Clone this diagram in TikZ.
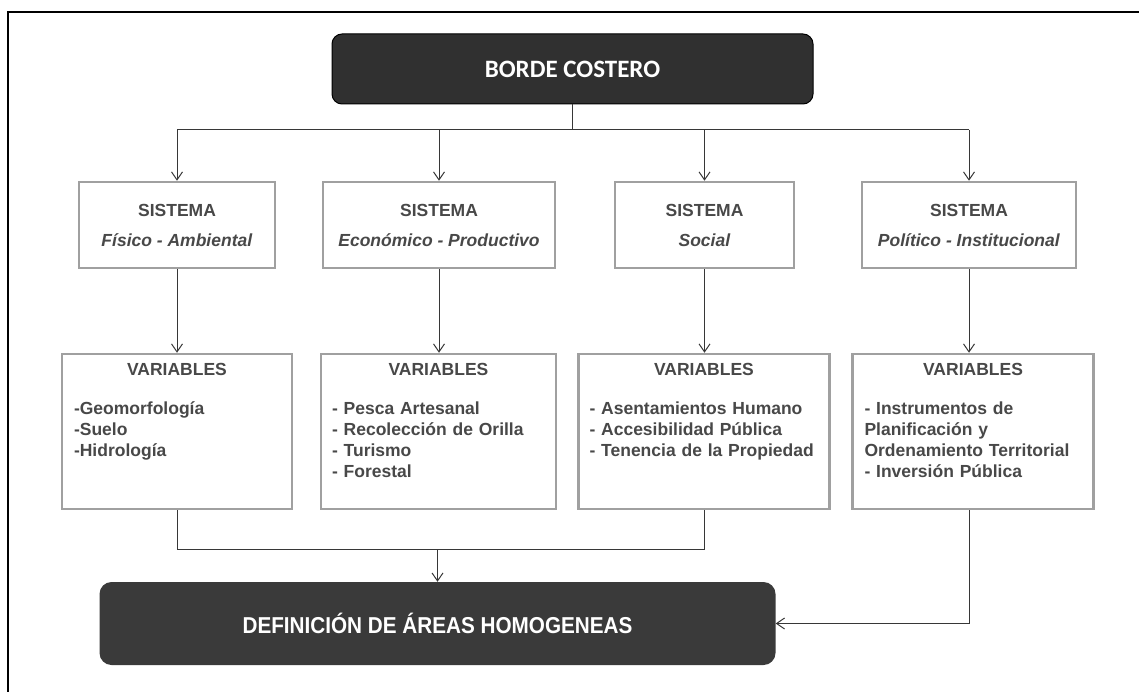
\documentclass[tikz,border=0pt]{standalone}
\usepackage{fontspec}
\setmainfont{Liberation Sans}
\newfontfamily\cabfont{Carlito}
\newfontfamily\narrowfont[FakeStretch=0.9]{Liberation Sans}
\usepackage{tikz}
\usetikzlibrary{calc,positioning,arrows.meta}

\definecolor{textgris}{RGB}{72,72,72}
\definecolor{bordegris}{RGB}{160,160,160}
\definecolor{lineagris}{RGB}{55,55,55}
\definecolor{oscuro}{RGB}{48,48,48}
\definecolor{oscurob}{RGB}{58,58,58}

\begin{document}
\begin{tikzpicture}[x=1pt,y=-1pt,
  sistema/.style={draw=bordegris,line width=2.5pt,fill=white,minimum height=86pt,inner sep=0pt,
    align=center,text=textgris,font=\fontsize{17.5}{30}\selectfont\bfseries},
  variables/.style={draw=bordegris,line width=2.5pt,fill=white,minimum height=155pt,inner sep=0pt},
  lista/.style={anchor=north,inner sep=0pt,align=left,text=textgris,font=\fontsize{17.5}{21}\selectfont\bfseries},
  linea/.style={draw=lineagris,line width=1pt},
  flecha/.style={linea,-{Straight Barb[length=8pt,width=11pt]}}]
\useasboundingbox (0,0) rectangle (1139,692);
\draw[line width=1.6pt] (8,692) -- (8,12) -- (1139,12);

\node[draw=black,line width=1pt,fill=oscuro,rounded corners=10pt,minimum width=481pt,minimum height=70pt,
  text=white,font=\cabfont\fontsize{25}{30}\selectfont\bfseries] (borde) at (572.5,69) {BORDE COSTERO};

\node[sistema,minimum width=196pt] (sist1) at (177,225) {SISTEMA\\\textit{Físico - Ambiental}};
\node[sistema,minimum width=232pt] (sist2) at (439,225) {SISTEMA\\\textit{Económico - Productivo}};
\node[sistema,minimum width=179pt] (sist3) at (704.5,225) {SISTEMA\\\textit{Social}};
\node[sistema,minimum width=214pt] (sist4) at (969,225) {SISTEMA\\\textit{Político - Institucional}};

\node[variables,minimum width=230pt] (var1) at (177,431.5) {};
\node[variables,minimum width=235pt] (var2) at (438.5,431.5) {};
\node[variables,minimum width=251pt] (var3) at (704,431.5) {};
\node[variables,minimum width=241pt] (var4) at (973,431.5) {};

\node[lista,text width=206pt] (var1t) at ($(var1.north)+(0,10)$)
  {{\centering VARIABLES\par}\vspace{18pt}-Geomorfología\\-Suelo\\-Hidrología};
\node[lista,text width=213pt] (var2t) at ($(var2.north)+(0,10)$)
  {{\centering VARIABLES\par}\vspace{18pt}- Pesca Artesanal\\- Recolección de Orilla\\- Turismo\\- Forestal};
\node[lista,text width=229pt] (var3t) at ($(var3.north)+(0,10)$)
  {{\centering VARIABLES\par}\vspace{18pt}- Asentamientos Humano\\- Accesibilidad Pública\\- Tenencia de la Propiedad};
\node[lista,text width=217pt] (var4t) at ($(var4.north)+(0,10)$)
  {{\centering VARIABLES\par}\vspace{18pt}- Instrumentos de\\Planificación y\\Ordenamiento Territorial\\- Inversión Pública};

\node[fill=oscurob,rounded corners=12pt,minimum width=676pt,minimum height=83pt,text=white,
  font=\narrowfont\fontsize{23}{28}\selectfont\bfseries] (def) at (437.5,623.5) {DEFINICIÓN DE ÁREAS HOMOGENEAS};

\coordinate (bus) at (0,130);
\coordinate (junta) at (0,549);

\draw[linea] (borde.south) -- (borde.south |- bus);
\draw[linea] (sist1.north |- bus) -- (sist4.north |- bus);
\foreach \s in {sist1,sist2,sist3,sist4}
  \draw[flecha] (\s.north |- bus) -- (\s.north);

\foreach \s/\v in {sist1/var1,sist2/var2,sist3/var3,sist4/var4}
  \draw[flecha] (\s.south) -- (\s.south |- \v.north);

\draw[linea] (var1.south) |- (var3.south |- junta) -- (var3.south);
\draw[flecha] (def.north |- junta) -- (def.north);
\draw[flecha] (sist4.south |- var4.south) |- (def.east);

\end{tikzpicture}
\end{document}
